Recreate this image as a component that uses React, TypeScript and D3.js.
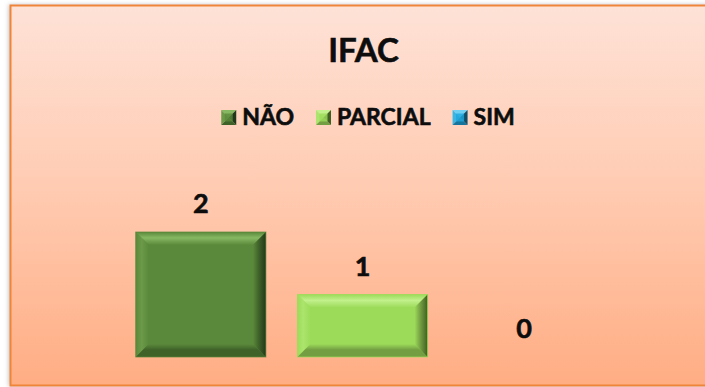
import * as d3 from 'd3';

const categories = ['NÃO', 'PARCIAL', 'SIM'];
const values = [2, 1, 0];
const title = 'IFAC';

const W = 705;
const H = 387;
const FONT = 'Lato, "Open Sans", sans-serif';

// face colours per category: main, top, left, bottom, right
const palette = [
  { id: 'nao', main: '#5b893b', top: '#86b862', left: '#6b9a49', bottom: '#3f6229', right: '#22381a' },
  { id: 'par', main: '#9cdb5a', top: '#c2f08c', left: '#ace56c', bottom: '#739e42', right: '#3f5e22' },
  { id: 'sim', main: '#1ea6dc', top: '#6fd0f3', left: '#3ab6e6', bottom: '#15759c', right: '#0d4d68' },
];

const measure = (txt: string, font: string) => {
  const ctx = document.createElement('canvas').getContext('2d');
  if (!ctx) return txt.length * 14;
  ctx.font = font;
  return ctx.measureText(txt).width;
};

type Pal = typeof palette[0];

const BevelBar = ({ x, y, w, h, c }: { x: number; y: number; w: number; h: number; c: Pal }) => {
  if (h <= 0) return null;
  const b = Math.min(13, w / 2, h / 2);
  const x1 = x + w, y1 = y + h;
  return (
    <g>
      <rect x={x} y={y} width={w} height={h} fill={c.main} />
      <polygon points={`${x},${y} ${x1},${y} ${x1 - b},${y + b} ${x + b},${y + b}`} fill={`url(#${c.id}-t)`} />
      <polygon points={`${x},${y} ${x + b},${y + b} ${x + b},${y1 - b} ${x},${y1}`} fill={`url(#${c.id}-l)`} />
      <polygon points={`${x},${y1} ${x + b},${y1 - b} ${x1 - b},${y1 - b} ${x1},${y1}`} fill={`url(#${c.id}-b)`} />
      <polygon points={`${x1},${y} ${x1},${y1} ${x1 - b},${y1 - b} ${x1 - b},${y + b}`} fill={`url(#${c.id}-r)`} />
      <rect x={x} y={y} width={w} height={h} fill="none" stroke={c.main} strokeOpacity={0.7} strokeWidth={1} />
    </g>
  );
};

const Marker = ({ x, y, s, c }: { x: number; y: number; s: number; c: Pal }) => {
  const m = s / 2;
  return (
    <g>
      <polygon points={`${x},${y} ${x + s},${y} ${x + m},${y + m}`} fill={c.top} />
      <polygon points={`${x},${y} ${x + m},${y + m} ${x},${y + s}`} fill={c.left} />
      <polygon points={`${x},${y + s} ${x + m},${y + m} ${x + s},${y + s}`} fill={c.bottom} />
      <polygon points={`${x + s},${y} ${x + s},${y + s} ${x + m},${y + m}`} fill={c.right} />
      <rect x={x + 3.5} y={y + 3.5} width={s - 7} height={s - 7} fill={c.main} opacity={0.8} />
    </g>
  );
};

const Grad = ({ id, dir, from, mid, to }: { id: string; dir: [number, number, number, number]; from: string; mid: string; to: string }) => (
  <linearGradient id={id} x1={dir[0]} y1={dir[1]} x2={dir[2]} y2={dir[3]}>
    <stop offset="0" stopColor={from} />
    <stop offset="0.45" stopColor={mid} />
    <stop offset="1" stopColor={to} />
  </linearGradient>
);

export default function App() {
  const x = d3.scaleBand<string>().domain(categories).range([120, 605]).paddingInner(0.195).paddingOuter(0.0975);
  const y = d3.scaleLinear().domain([0, 2.5]).range([357, 200.75]);

  // legend layout
  const legFont = `bold 23px ${FONT}`;
  const mk = 15, gapMk = 6, gapItem = 22;
  const widths = categories.map((c) => mk + gapMk + measure(c, legFont));
  const total = d3.sum(widths) + gapItem * (categories.length - 1);
  let lx = 368 - total / 2;
  const legendItems = categories.map((c, i) => {
    const item = { name: c, x: lx, i };
    lx += widths[i] + gapItem;
    return item;
  });

  const txt = { fontFamily: FONT, fontWeight: 'bold' as const, fill: '#0d0d0d', stroke: '#0d0d0d', strokeWidth: 0.6 };

  return (
    <svg width={W} height={H} style={{ position: 'absolute', left: 0, top: 0, background: '#fff' }}>
      <defs>
        <linearGradient id="bg" x1="0" y1="0" x2="0" y2="1">
          <stop offset="0" stopColor="#fee2d7" />
          <stop offset="0.5" stopColor="#ffcab0" />
          <stop offset="1" stopColor="#ffad83" />
        </linearGradient>
        <filter id="sh" x="-5%" y="-5%" width="110%" height="110%">
          <feDropShadow dx="-1" dy="0" stdDeviation="2" floodColor="#888" floodOpacity="0.5" />
        </filter>
        {palette.map((c) => (
          <g key={c.id}>
            <Grad id={`${c.id}-t`} dir={[0, 0, 0, 1]} from={c.main} mid={c.top} to={c.main} />
            <Grad id={`${c.id}-l`} dir={[0, 0, 1, 0]} from={c.main} mid={c.left} to={c.main} />
            <Grad id={`${c.id}-b`} dir={[0, 0, 0, 1]} from={c.main} mid={c.bottom} to={c.bottom} />
            <Grad id={`${c.id}-r`} dir={[0, 0, 1, 0]} from={c.main} mid={c.bottom} to={c.right} />
          </g>
        ))}
      </defs>
      <rect x={10.5} y={5.5} width={700} height={380} fill="url(#bg)" stroke="#ef8537" strokeWidth={2} filter="url(#sh)" />

      <text x={363.5} y={62} textAnchor="middle" fontSize={33} {...txt}>
        {title}
      </text>

      {legendItems.map((it) => (
        <g key={it.name}>
          <Marker x={it.x} y={110} s={mk} c={palette[it.i]} />
          <text x={it.x + mk + gapMk} y={124.5} fontSize={23} {...txt}>
            {it.name}
          </text>
        </g>
      ))}

      {categories.map((c, i) => {
        const bx = x(c) ?? 0;
        const top = y(values[i]);
        return (
          <g key={c}>
            <BevelBar x={bx} y={top} w={x.bandwidth()} h={y(0) - top} c={palette[i]} />
            <text x={bx + x.bandwidth() / 2} y={top - 19} textAnchor="middle" fontSize={27} {...txt}>
              {values[i]}
            </text>
          </g>
        );
      })}
    </svg>
  );
}
